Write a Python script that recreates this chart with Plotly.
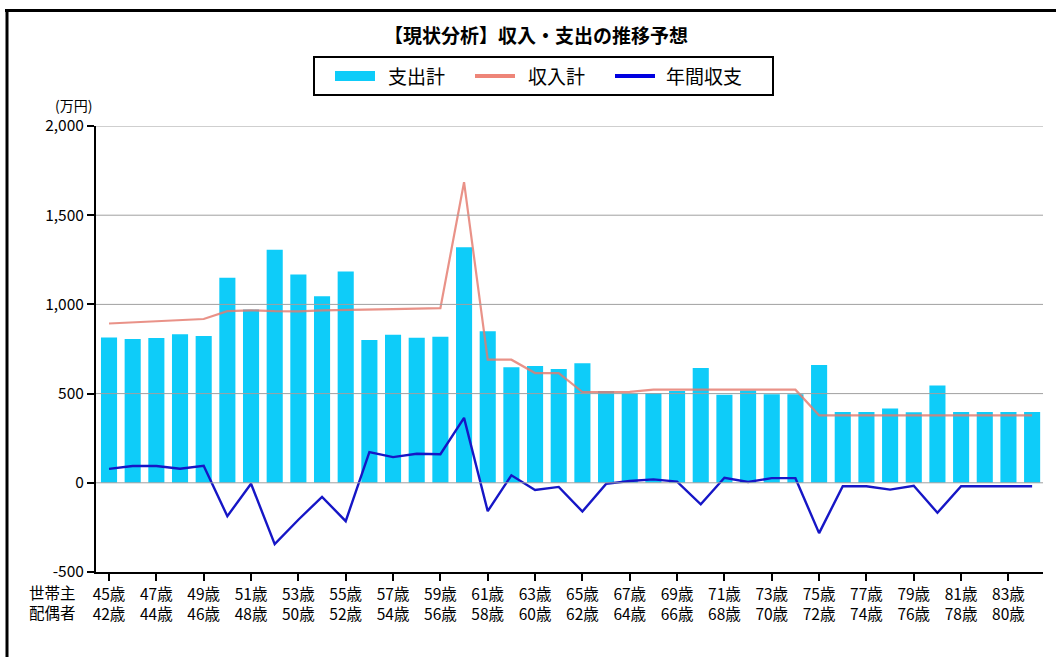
import plotly.graph_objects as go

# 世帯主 / 配偶者 ages for each year on the horizontal axis
householder_age = list(range(45, 85))
spouse_age = [a - 3 for a in householder_age]

# 支出計 (万円)
expense = [815, 806, 811, 832, 823, 1149, 972, 1306, 1168, 1045,
           1185, 800, 830, 813, 819, 1321, 849, 648, 655, 638,
           670, 515, 500, 503, 515, 643, 494, 517, 496, 496,
           660, 397, 397, 416, 395, 546, 397, 397, 397, 397]

# 収入計 (万円)
income = [893, 900, 905, 911, 918, 962, 967, 962, 961, 966,
          970, 972, 974, 976, 979, 1685, 690, 690, 615, 615,
          509, 509, 510, 522, 522, 522, 522, 522, 522, 522,
          378, 378, 378, 378, 378, 378, 378, 378, 378, 378]

# 年間収支 (万円)
net = [78, 94, 94, 79, 95, -187, -5, -344, -207, -79,
       -215, 172, 144, 163, 160, 364, -159, 42, -40, -23,
       -161, -6, 10, 19, 7, -121, 28, 5, 26, 26,
       -282, -19, -19, -38, -17, -168, -19, -19, -19, -19]

y_ticks = [-500, 0, 500, 1000, 1500, 2000]
y_tick_text = ["-500", "0", "500", "1,000", "1,500", "2,000"]

FONT = "Noto Sans CJK JP"
CYAN = "#0ECCF9"
SALMON = "rgba(228,122,110,0.82)"
SALMON_KEY = "#EE8578"
BLUE = "#1616C6"

W, H = 1056, 657
ML, MR, MT, MB = 96, 13, 126, 85
PW, PH = W - ML - MR, H - MT - MB


def px(x):
    return (x - ML) / PW


def py(y):
    return (H - MB - y) / PH


cats = [f"{a}歳" for a in householder_age]
tick_idx = list(range(0, len(cats), 2))

fig = go.Figure()
fig.add_trace(go.Bar(x=cats, y=expense, name="支出計", marker_color=CYAN,
                     marker_line_width=0, showlegend=False))
fig.add_trace(go.Scatter(x=cats, y=income, name="収入計", mode="lines",
                         line=dict(color=SALMON, width=2.2), showlegend=False))
fig.add_trace(go.Scatter(x=cats, y=net, name="年間収支", mode="lines",
                         line=dict(color=BLUE, width=2.4), showlegend=False))

shapes = []
# horizontal grid drawn over the bars
for v in y_ticks[1:]:
    shapes.append(dict(type="line", xref="x domain", yref="y", x0=0, x1=1,
                       y0=v, y1=v, line=dict(color="#A0A0A0", width=1),
                       layer="above"))

# outer frame (top and left edges)
shapes.append(dict(type="line", xref="paper", yref="paper",
                   x0=px(5), x1=px(W + 5), y0=py(10.5), y1=py(10.5),
                   line=dict(color="black", width=3)))
shapes.append(dict(type="line", xref="paper", yref="paper",
                   x0=px(7), x1=px(7), y0=py(9), y1=py(H + 5),
                   line=dict(color="black", width=3)))

# legend box and keys
shapes.append(dict(type="rect", xref="paper", yref="paper",
                   x0=px(314), x1=px(773), y0=py(95), y1=py(57),
                   line=dict(color="black", width=2), fillcolor="white"))
shapes.append(dict(type="rect", xref="paper", yref="paper",
                   x0=px(335), x1=px(375), y0=py(81), y1=py(71),
                   line=dict(width=0), fillcolor=CYAN))
shapes.append(dict(type="line", xref="paper", yref="paper",
                   x0=px(475), x1=px(515), y0=py(76), y1=py(76),
                   line=dict(color=SALMON_KEY, width=4)))
shapes.append(dict(type="line", xref="paper", yref="paper",
                   x0=px(615), x1=px(655), y0=py(76), y1=py(76),
                   line=dict(color="#0000E0", width=4)))

annotations = []
for label, xl in [("支出計", 386), ("収入計", 526), ("年間収支", 664)]:
    annotations.append(dict(text=label, xref="paper", yref="paper",
                            x=px(xl), y=py(76), xanchor="left",
                            yanchor="middle", showarrow=False,
                            font=dict(family=FONT, size=19, color="black")))

annotations.append(dict(text="(万円)", xref="paper", yref="paper",
                        x=px(73), y=py(105), xanchor="center",
                        yanchor="middle", showarrow=False,
                        font=dict(family=FONT, size=14, color="black")))
annotations.append(dict(text="世帯主<br>配偶者", xref="paper", yref="paper",
                        x=px(52), y=py(602), xanchor="center",
                        yanchor="middle", showarrow=False, align="center",
                        font=dict(family=FONT, size=15.5, color="black")))

fig.update_layout(
    width=W, height=H, autosize=False,
    margin=dict(l=ML, r=MR, t=MT, b=MB, pad=0),
    paper_bgcolor="white", plot_bgcolor="white",
    title=dict(text="<b>【現状分析】収入・支出の推移予想</b>",
               xref="container", yref="container",
               x=536 / W, y=1 - 36 / H, xanchor="center", yanchor="middle",
               font=dict(family=FONT, size=19, color="black")),
    font=dict(family=FONT, size=15.5, color="black"),
    bargap=0.32,
    showlegend=False,
    shapes=shapes,
    annotations=annotations,
)

fig.update_xaxes(
    type="category", range=[-0.55, 39.46],
    tickvals=[cats[i] for i in tick_idx],
    ticktext=[f"{householder_age[i]}歳<br>{spouse_age[i]}歳" for i in tick_idx],
    showline=True, linecolor="black", linewidth=2,
    ticks="outside", ticklen=7, tickwidth=2, tickcolor="black",
    showgrid=False, zeroline=False,
    tickfont=dict(family=FONT, size=15.5, color="black"),
)
fig.update_yaxes(
    range=[-500, 2000], tickvals=y_ticks, ticktext=y_tick_text,
    showline=True, linecolor="black", linewidth=2,
    ticks="outside", ticklen=7, tickwidth=2, tickcolor="black",
    showgrid=False, zeroline=False,
    tickfont=dict(family=FONT, size=15.5, color="black"),
)

fig.write_html("out.html")
